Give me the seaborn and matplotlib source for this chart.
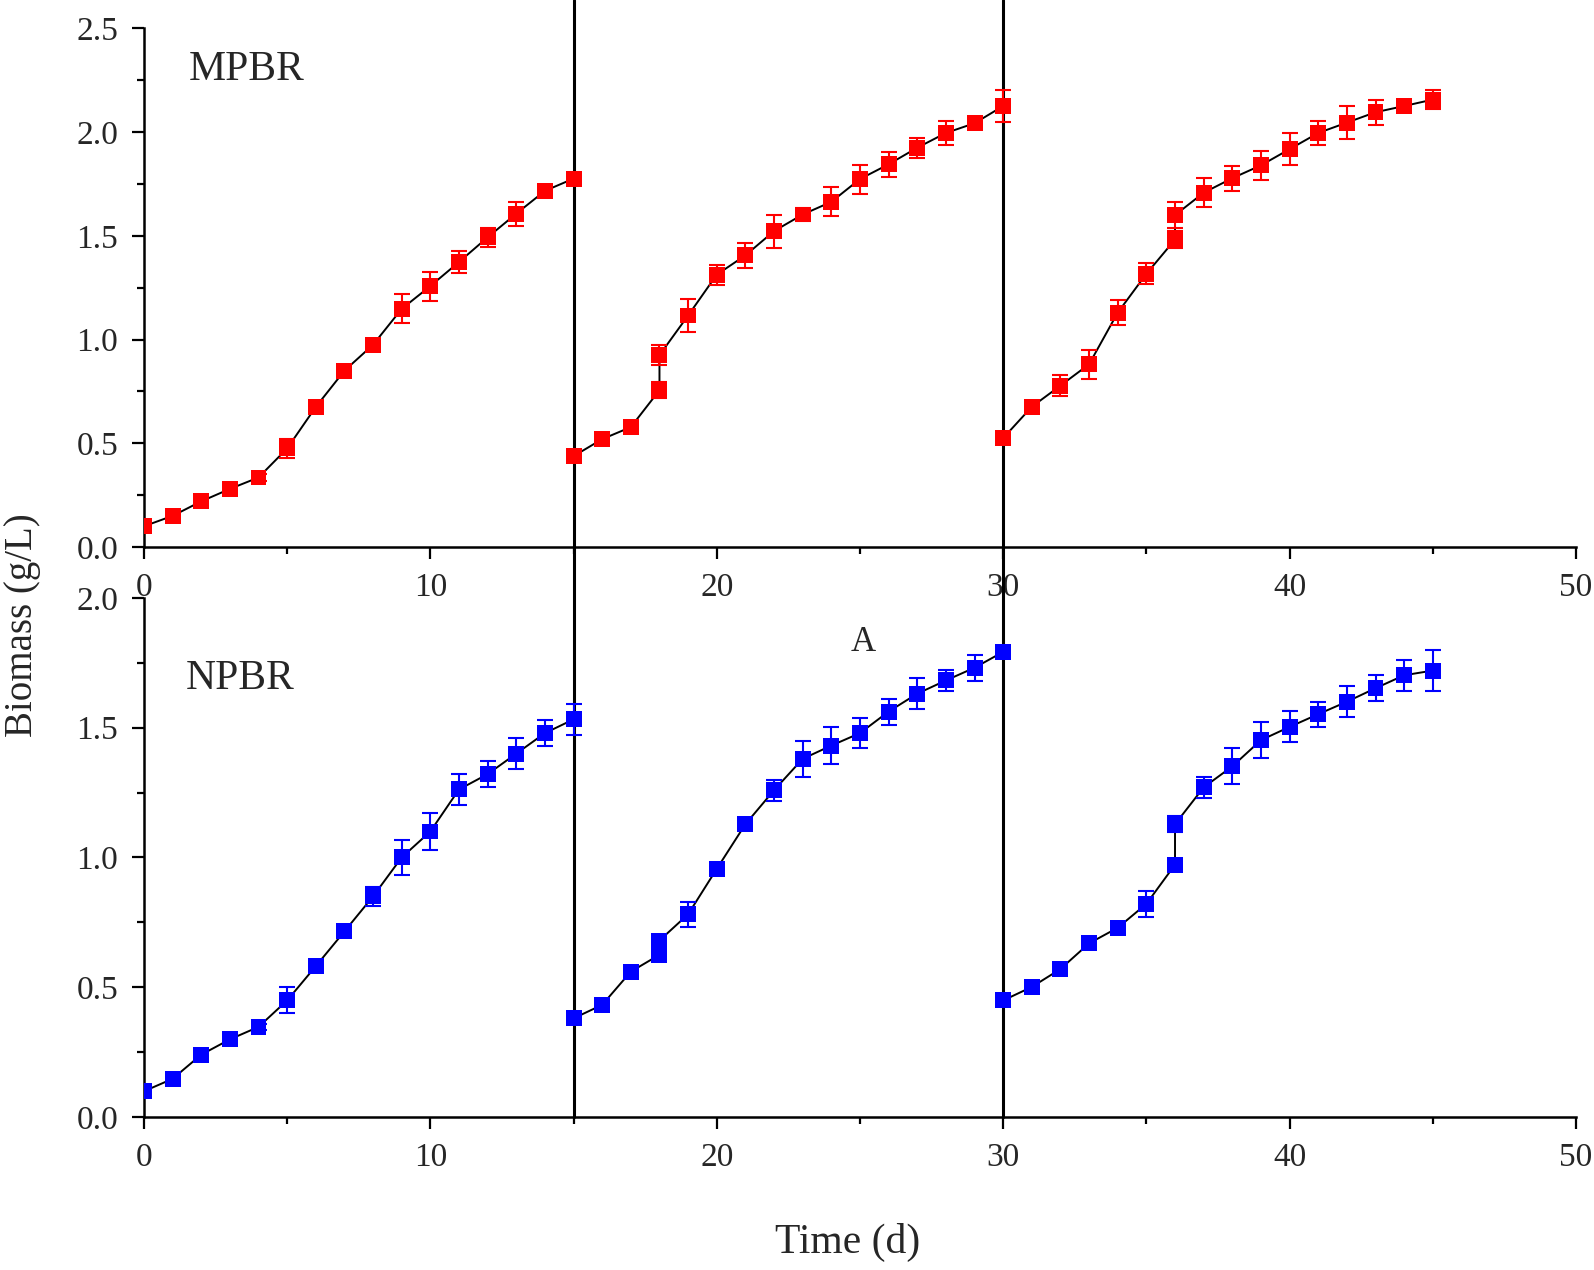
import pandas as pd
import matplotlib
matplotlib.use("Agg")
import matplotlib.pyplot as plt
from matplotlib.ticker import MultipleLocator
import seaborn as sns

sns.set_style("ticks")
plt.rcParams['font.family'] = ['Liberation Serif', 'DejaVu Serif']

# sampling days for the three culture cycles (two readings on days 18 and 36)
days_c1 = [0, 1, 2, 3, 4, 5, 6, 7, 8, 9, 10, 11, 12, 13, 14, 15]
days_c2 = [15, 16, 17, 18, 18, 19, 20, 21, 22, 23, 24, 25, 26, 27, 28, 29, 30]
days_c3 = [30, 31, 32, 33, 34, 35, 36, 36, 37, 38, 39, 40, 41, 42, 43, 44, 45]

# MPBR biomass (g/L) and SD
mpbr_c1 = [0.10, 0.15, 0.22, 0.28, 0.335, 0.475, 0.675, 0.85, 0.975, 1.148, 1.258, 1.374, 1.493, 1.607, 1.717, 1.776]
mpbr_c1_sd = [0.01, 0.01, 0.015, 0.01, 0.015, 0.045, 0.02, 0.015, 0.025, 0.07, 0.07, 0.055, 0.047, 0.058, 0.015, 0.02]
mpbr_c2 = [0.438, 0.52, 0.578, 0.756, 0.925, 1.116, 1.313, 1.406, 1.523, 1.603, 1.664, 1.774, 1.845, 1.925, 1.996, 2.043, 2.126]
mpbr_c2_sd = [0.01, 0.01, 0.01, 0.04, 0.047, 0.08, 0.048, 0.06, 0.08, 0.03, 0.07, 0.07, 0.06, 0.048, 0.058, 0.03, 0.079]
mpbr_c3 = [0.525, 0.676, 0.778, 0.881, 1.13, 1.317, 1.482, 1.60, 1.708, 1.778, 1.84, 1.918, 1.996, 2.046, 2.096, 2.126, 2.157]
mpbr_c3_sd = [0.01, 0.03, 0.049, 0.07, 0.06, 0.05, 0.04, 0.062, 0.07, 0.06, 0.07, 0.078, 0.06, 0.08, 0.06, 0.02, 0.047]

# NPBR biomass (g/L) and SD
npbr_c1 = [0.099, 0.147, 0.24, 0.299, 0.347, 0.449, 0.581, 0.715, 0.85, 1.0, 1.10, 1.262, 1.321, 1.40, 1.479, 1.532]
npbr_c1_sd = [0.01, 0.01, 0.01, 0.01, 0.01, 0.05, 0.01, 0.01, 0.038, 0.069, 0.07, 0.06, 0.05, 0.06, 0.049, 0.06]
npbr_c2 = [0.38, 0.432, 0.56, 0.625, 0.68, 0.781, 0.956, 1.128, 1.259, 1.38, 1.431, 1.479, 1.562, 1.631, 1.682, 1.731, 1.792]
npbr_c2_sd = [0.01, 0.01, 0.01, 0.01, 0.02, 0.048, 0.01, 0.02, 0.04, 0.069, 0.07, 0.058, 0.05, 0.06, 0.04, 0.05, 0.01]
npbr_c3 = [0.449, 0.501, 0.57, 0.669, 0.729, 0.821, 0.972, 1.128, 1.27, 1.351, 1.452, 1.503, 1.552, 1.60, 1.652, 1.702, 1.72]
npbr_c3_sd = [0.01, 0.01, 0.01, 0.01, 0.01, 0.05, 0.01, 0.03, 0.04, 0.069, 0.07, 0.06, 0.048, 0.06, 0.05, 0.06, 0.08]

cycle_breaks = [15, 30]


def make_frame(c1, c2, c3, s1, s2, s3):
    frames = []
    for i, (d, v, s) in enumerate([(days_c1, c1, s1), (days_c2, c2, s2), (days_c3, c3, s3)]):
        frames.append(pd.DataFrame({"day": d, "biomass": v, "sd": s, "cycle": i + 1}))
    return pd.concat(frames, ignore_index=True)


mpbr = make_frame(mpbr_c1, mpbr_c2, mpbr_c3, mpbr_c1_sd, mpbr_c2_sd, mpbr_c3_sd)
npbr = make_frame(npbr_c1, npbr_c2, npbr_c3, npbr_c1_sd, npbr_c2_sd, npbr_c3_sd)

fig = plt.figure(figsize=(15.94, 12.70), dpi=100)
ax_top = fig.add_axes([0.0903, 0.5693, 0.8984, 0.4083])
ax_bot = fig.add_axes([0.0903, 0.1205, 0.8984, 0.4087])


def draw_panel(ax, df, color, ymax, name, name_xy):
    sns.lineplot(data=df, x="day", y="biomass", units="cycle", estimator=None, sort=False,
                 color="black", lw=1.4, ax=ax, zorder=2)
    ax.errorbar(df["day"], df["biomass"], yerr=df["sd"], fmt="none", ecolor=color,
                elinewidth=1.5, capsize=5.6, capthick=1.5, zorder=3)
    sns.scatterplot(data=df, x="day", y="biomass", marker="s", s=132, color=color,
                    edgecolor="none", ax=ax, zorder=4)
    ax.set_xlim(0, 50)
    ax.set_ylim(0, ymax)
    ax.xaxis.set_major_locator(MultipleLocator(10))
    ax.xaxis.set_minor_locator(MultipleLocator(5))
    ax.yaxis.set_major_locator(MultipleLocator(0.5))
    ax.yaxis.set_minor_locator(MultipleLocator(0.25))
    ax.yaxis.set_major_formatter(matplotlib.ticker.FormatStrFormatter("%.1f"))
    ax.tick_params(which="major", direction="out", length=8.5, width=1.6, pad=10, labelsize=24, color="black")
    ax.tick_params(which="minor", direction="out", length=5, width=1.6, color="black")
    for side in ["top", "right"]:
        ax.spines[side].set_visible(False)
    for side in ["left", "bottom"]:
        ax.spines[side].set_linewidth(1.8)
        ax.spines[side].set_color("black")
    ax.set_xlabel("")
    ax.set_ylabel("")
    ax.text(name_xy[0], name_xy[1], name, fontsize=30, va="center", ha="left")


draw_panel(ax_top, mpbr, "#FF0000", 2.5, "MPBR", (1.57, 2.30))
draw_panel(ax_bot, npbr, "#0000FF", 2.0, "NPBR", (1.47, 1.69))
ax_bot.text(25.1, 1.83, "A", fontsize=25, ha="center", va="center")

# cycle boundaries run through both panels up to the top edge
for x in cycle_breaks:
    ax_top.axvline(x, ymin=0, ymax=1.055, color="black", lw=2.2, clip_on=False, zorder=1)
    ax_bot.axvline(x, ymin=0, ymax=1.10, color="black", lw=2.2, clip_on=False, zorder=1)

fig.text(0.532, 0.022, "Time (d)", fontsize=30, ha="center", va="center")
fig.text(0.014, 0.508, "Biomass (g/L)", fontsize=28, ha="center", va="center", rotation=90)

fig.savefig("out.png", dpi=100)
